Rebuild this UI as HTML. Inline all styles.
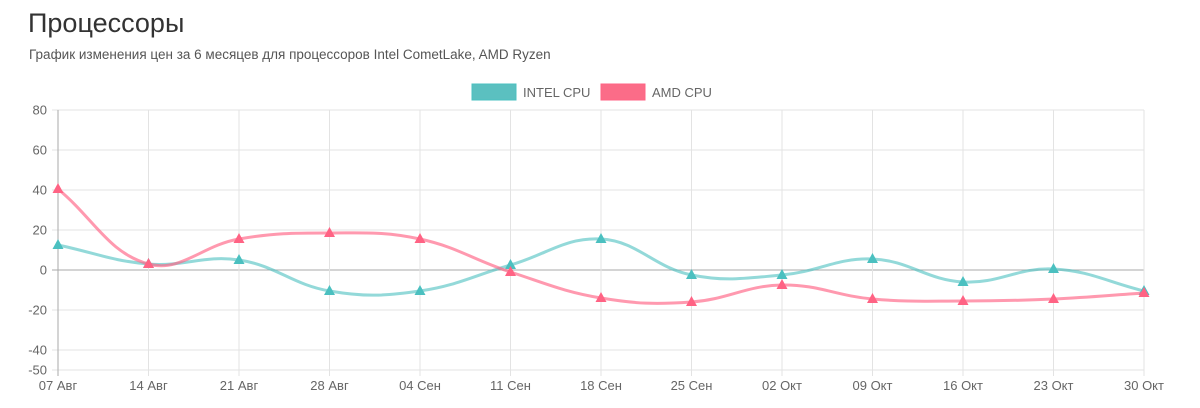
<!DOCTYPE html>
<html><head><meta charset="utf-8">
<style>
body{margin:0;background:#fff;width:1200px;height:408px;overflow:hidden;font-family:"Liberation Sans",sans-serif;}
h1{position:absolute;left:28px;top:8px;margin:0;font-weight:400;font-size:27px;color:#333;}
p{position:absolute;left:29px;top:47px;margin:0;font-size:13.5px;color:#555;}
svg{position:absolute;left:0;top:0;}
</style></head><body>
<h1>Процессоры</h1>
<p>График изменения цен за 6 месяцев для процессоров Intel CometLake, AMD Ryzen</p>
<svg id="c" width="1200" height="408"></svg>
<script>
const categories=["07 Авг","14 Авг","21 Авг","28 Авг","04 Сен","11 Сен","18 Сен","25 Сен","02 Окт","09 Окт","16 Окт","23 Окт","30 Окт"];
const intelValues=[12.5,3,5,-10.5,-10.5,2.5,15.5,-2.5,-2.5,5.5,-6,0.5,-10.5];
const amdValues=[40.5,3,15.5,18.5,15.5,-1,-14,-16,-7.5,-14.5,-15.5,-14.5,-11.5];
const yTicks=[80,60,40,20,0,-20,-40,-50];
const seriesNames=["INTEL CPU","AMD CPU"];
const NS="http://www.w3.org/2000/svg";
const svg=document.getElementById('c');
const X0=58,X1=1144,Y0=270,PX=2;
const xs=i=>X0+(X1-X0)*i/(categories.length-1);
const ys=v=>Y0-v*PX;
function mk(t,a){const e=document.createElementNS(NS,t);for(const k in a)e.setAttribute(k,a[k]);svg.appendChild(e);return e;}
yTicks.forEach(v=>{
 const l=mk('line',{x1:52,x2:X1,y1:ys(v),y2:ys(v),stroke:v===0?'#aaa':'#e3e3e3','stroke-width':1});
 
 
 const t=mk('text',{x:47,y:ys(v)+4.5,'text-anchor':'end','font-size':13,fill:'#666'});
 t.textContent=v;
 
 
});
categories.forEach((c,i)=>{
 const l=mk('line',{x1:xs(i),x2:xs(i),y1:ys(80),y2:ys(-50)+6,stroke:i===0?'#aaa':'#e3e3e3','stroke-width':1});
 
 
 const t=mk('text',{x:xs(i),y:390,'text-anchor':'middle','font-size':13,fill:'#666'});
 t.textContent=c;
 
 
});
function path(vals){
 const p=vals.map((v,i)=>[xs(i),ys(v)]);const T=0.4;let d=`M${p[0][0]},${p[0][1]}`;
 const cps=p.map((pt,i)=>{const pr=p[i-1]||pt,nx=p[i+1]||pt;
  const d01=Math.hypot(pt[0]-pr[0],pt[1]-pr[1]),d12=Math.hypot(nx[0]-pt[0],nx[1]-pt[1]);
  let fa=d01/(d01+d12)||0,fb=d12/(d01+d12)||0;fa*=T;fb*=T;
  return [[pt[0]-fa*(nx[0]-pr[0]),pt[1]-fa*(nx[1]-pr[1])],[pt[0]+fb*(nx[0]-pr[0]),pt[1]+fb*(nx[1]-pr[1])]];});
 for(let i=1;i<p.length;i++)d+=` C${cps[i-1][1][0]},${cps[i-1][1][1]} ${cps[i][0][0]},${cps[i][0][1]} ${p[i][0]},${p[i][1]}`;
 return d;
}
[[intelValues,'rgba(75,192,192,0.6)','#4bc0c0','intel'],[amdValues,'rgba(255,99,132,0.65)','#ff6384','amd']].forEach(([vals,lc,pc,n])=>{
 const l=mk('path',{d:path(vals),fill:'none',stroke:lc,'stroke-width':3});
 
 
 vals.forEach((v,i)=>{const x=xs(i),y=ys(v);
  const m=mk('polygon',{points:`${x},${y-6} ${x-5.5},${y+4} ${x+5.5},${y+4}`,fill:pc});
  
  
 });
});
[[472,'#5bc0c0','#4bc0c0',seriesNames[0],'legend-intel'],[601,'#fb6c88','#ff6384',seriesNames[1],'legend-amd']].forEach(([x,f,s,t,n])=>{
 const r=mk('rect',{x:x,y:84,width:44,height:16,fill:f,stroke:s,'stroke-width':1});
 
 
 const tx=mk('text',{x:x+51,y:97,'font-size':13,fill:'#666'});
 tx.textContent=t;
 
 
});
</script>
</body></html>
